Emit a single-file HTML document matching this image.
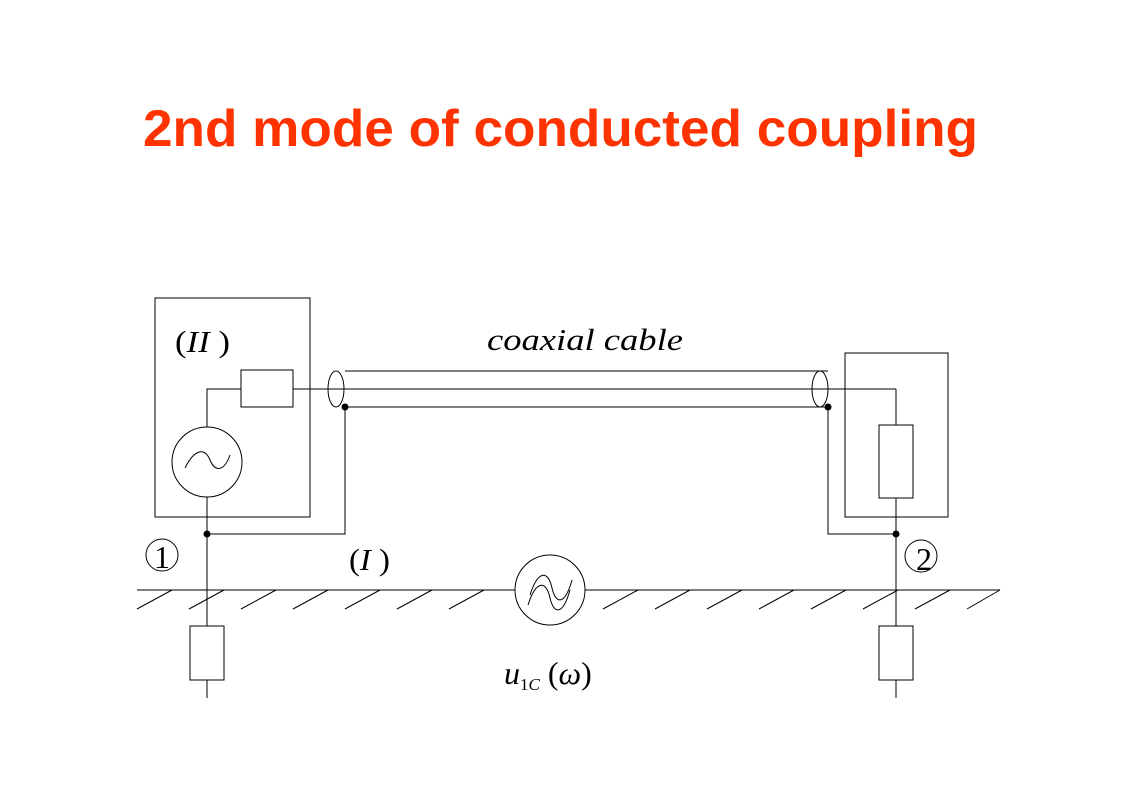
<!DOCTYPE html>
<html><head><style>body{margin:0;background:#fff}</style></head><body>
<svg width="1123" height="794" xmlns="http://www.w3.org/2000/svg" style="display:block">
<text x="143" y="146" textLength="835" lengthAdjust="spacingAndGlyphs" font-family="Liberation Sans, sans-serif" font-weight="bold" font-size="52" fill="#ff3300">2nd mode of conducted coupling</text>
<g stroke="#000" stroke-width="1" fill="none">
<rect x="155" y="298" width="155" height="219"/>
<rect x="241" y="370" width="52" height="37"/>
<polyline points="207,427 207,389 241,389"/>
<circle cx="207" cy="462" r="35"/>
<path d="M185,468 C195,448 205,448 210,460 C215,472 224,472 230,455"/>
<line x1="293" y1="389" x2="896" y2="389"/>
<line x1="345" y1="371" x2="828" y2="371"/>
<line x1="345" y1="407" x2="828" y2="407"/>
<ellipse cx="336" cy="389" rx="8" ry="18"/>
<ellipse cx="820" cy="389" rx="8" ry="18"/>
<polyline points="345,407 345,534 207,534"/>
<line x1="207" y1="497" x2="207" y2="626"/>
<rect x="190" y="626" width="34" height="54"/>
<line x1="207" y1="680" x2="207" y2="698"/>
<rect x="845" y="353" width="103" height="164"/>
<line x1="896" y1="389" x2="896" y2="425"/>
<rect x="879" y="425" width="34" height="73"/>
<line x1="896" y1="498" x2="896" y2="626"/>
<polyline points="828,407 828,534 896,534"/>
<rect x="879" y="626" width="34" height="54"/>
<line x1="896" y1="680" x2="896" y2="698"/>
<line x1="137" y1="590" x2="515" y2="590"/>
<line x1="585" y1="590" x2="1000" y2="590"/>
<circle cx="550" cy="590" r="35"/>
<path d="M530,595 C538,570 548,570 552,588 C556,605 565,605 572,580"/>
<path d="M528,605 C536,580 546,580 550,598 C554,615 563,615 570,590"/>
<g>
<line x1="137" y1="609" x2="172" y2="590"/><line x1="189" y1="609" x2="224" y2="590"/>
<line x1="241" y1="609" x2="276" y2="590"/><line x1="293" y1="609" x2="328" y2="590"/>
<line x1="345" y1="609" x2="380" y2="590"/><line x1="397" y1="609" x2="432" y2="590"/>
<line x1="449" y1="609" x2="484" y2="590"/>
<line x1="603" y1="609" x2="638" y2="590"/><line x1="655" y1="609" x2="690" y2="590"/>
<line x1="707" y1="609" x2="742" y2="590"/><line x1="759" y1="609" x2="794" y2="590"/>
<line x1="811" y1="609" x2="846" y2="590"/><line x1="863" y1="609" x2="898" y2="590"/>
<line x1="915" y1="609" x2="950" y2="590"/><line x1="967" y1="609" x2="1000" y2="590"/>
</g>
<circle cx="162" cy="555" r="16"/>
<circle cx="921" cy="556" r="16"/>
</g>
<g fill="#000">
<circle cx="345" cy="407" r="3.5"/><circle cx="207" cy="534" r="3.5"/>
<circle cx="828" cy="407" r="3.5"/><circle cx="896" cy="534" r="3.5"/>
</g>
<g font-family="Liberation Serif, serif" font-size="31" fill="#000">
<text x="175" y="352" textLength="55" lengthAdjust="spacingAndGlyphs">(<tspan font-style="italic">II</tspan>  )</text>
<text x="349" y="570" textLength="41" lengthAdjust="spacingAndGlyphs">(<tspan font-style="italic">I</tspan>  )</text>
<text x="487" y="350" font-style="italic" textLength="196" lengthAdjust="spacingAndGlyphs">coaxial  cable</text>
<text x="154" y="568" font-size="32">1</text>
<text x="916" y="570" font-size="32">2</text>
<text x="504" y="684" font-size="32"><tspan font-style="italic">u</tspan><tspan font-size="17" dy="6">1</tspan><tspan font-size="17" font-style="italic">C</tspan><tspan dy="-6"> (</tspan><tspan font-style="italic">ω</tspan>)</text>
</g>
</svg>
</body></html>
